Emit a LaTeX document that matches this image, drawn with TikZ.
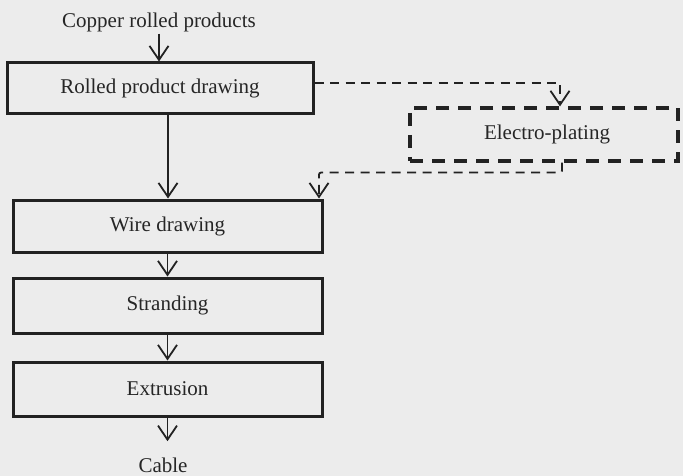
\documentclass[tikz,border=0pt]{standalone}
\usepackage{fontspec}
\setmainfont{Liberation Serif}
\usetikzlibrary{arrows.meta}
\definecolor{bgc}{HTML}{ECECEC}
\definecolor{ink}{HTML}{222222}
\definecolor{txt}{HTML}{262626}
\begin{document}
\begin{tikzpicture}[x=1pt,y=-1pt,
  every node/.style={font=\fontsize{21}{24}\selectfont, text=txt},
  procbox/.style={draw=ink, line width=3pt, inner sep=0pt, rectangle},
  platebox/.style={draw=ink, line width=3.2pt, inner sep=0pt, rectangle, dash pattern=on 13pt off 9pt},
  arr/.style={draw=ink, line width=1.8pt, -{Straight Barb[length=14pt,width=19pt,line width=1.8pt]}},
  darr/.style={arr, dash pattern=on 9pt off 6.5pt}]
\fill[bgc] (0,0) rectangle (683,476);
\useasboundingbox (0,0) rectangle (683,476);
% nodes
\node[anchor=base, inner sep=1pt] (src) at (159,28) {Copper rolled products};
\node[procbox, minimum width=306pt, minimum height=51pt] (b1) at (160,88.5) {Rolled product drawing};
\node[procbox, minimum width=309pt, minimum height=52pt] (b2) at (167.5,226) {Wire drawing};
\node[procbox, minimum width=309pt, minimum height=55pt] (b3) at (167.5,305.5) {Stranding};
\node[procbox, minimum width=309pt, minimum height=54pt] (b4) at (167.5,389) {Extrusion};
\node[anchor=base, inner sep=0pt] (cable) at (163,472) {Cable};
\node[platebox, minimum width=268pt, minimum height=53pt] (el) at (544,134.5) {};
\node (eltxt) at (547,134.5) {Electro-plating};
% connectors
\draw[arr] (src.south) -- (src.south |- b1.north);
\draw[arr] ([xshift=8pt]b1.south) -- ([xshift=8pt]b1.south |- b2.north);
\draw[arr] (b2.south) -- (b3.north);
\draw[arr] (b3.south) -- (b4.north);
\draw[arr] (b4.south) -- ([yshift=16pt]b4.south |- cable.north);
\draw[darr] ([yshift=5.5pt]b1.east) -| ([xshift=16pt]el.north);
\draw[darr, rounded corners=2pt] ([xshift=18pt]el.south) -- ++(0,10) -| ([xshift=-4.5pt]b2.north east);
\end{tikzpicture}
\end{document}
